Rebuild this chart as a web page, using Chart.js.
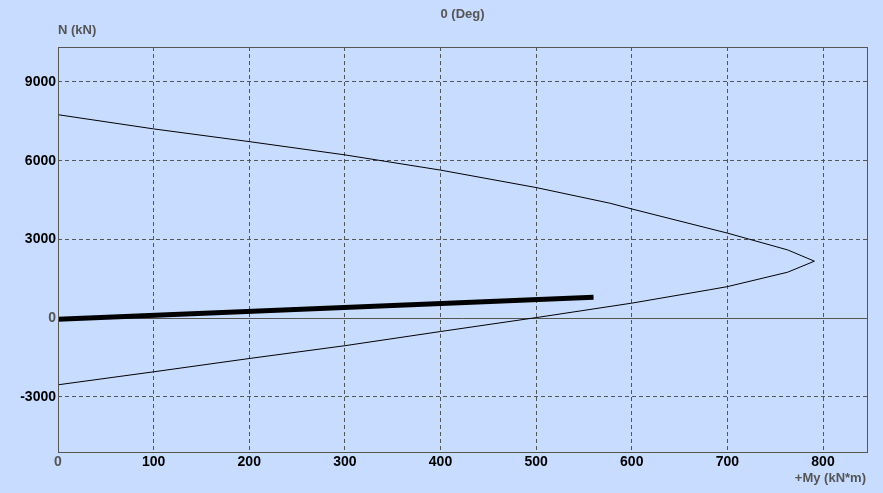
<!DOCTYPE html>
<html>
<head>
<meta charset="utf-8">
<script src="https://cdn.jsdelivr.net/npm/chart.js@4/dist/chart.umd.min.js"></script>
<style>
  html,body{margin:0;padding:0;background:#C8DCFF;}
  #wrap{width:883px;height:493px;position:relative;}
</style>
</head>
<body>
<div id="wrap"><canvas id="c" width="883" height="493"></canvas></div>
<script>
// ---- data ----
const chartTitle = "0 (Deg)";
const yTitle = "N (kN)";
const xTitle = "+My (kN*m)";
const myUpper = [0, 100, 200, 300, 400, 500, 577, 600, 700, 763, 791];
const nUpper  = [7750, 7210, 6725, 6220, 5640, 4975, 4380, 4160, 3240, 2600, 2170];
const myLower = [791, 763, 700, 681, 600, 500, 400, 300, 200, 100, 0];
const nLower  = [2170, 1750, 1200, 1078, 571, 20, -510, -1050, -1538, -2045, -2540];
const myLoad = [0, 560];
const nLoad  = [-40, 800];
const xTicks = [0, 100, 200, 300, 400, 500, 600, 700, 800];
const yTicks = [-3000, 0, 3000, 6000, 9000];

const curve = myUpper.map((x, i) => ({x, y: nUpper[i]}))
  .concat(myLower.map((x, i) => ({x, y: nLower[i]})));
const load = myLoad.map((x, i) => ({x, y: nLoad[i]}));

const FONT = "'Liberation Sans', Arial, sans-serif";
const GRAY = '#555555';

const decor = {
  id: 'decor',
  beforeDatasetsDraw(chart) {
    const {ctx, chartArea: a, scales: {y}} = chart;
    const y0 = Math.round(y.getPixelForValue(0)) + 0.5;
    ctx.save();
    ctx.strokeStyle = GRAY; ctx.lineWidth = 1; ctx.setLineDash([]);
    ctx.beginPath(); ctx.moveTo(a.left, y0); ctx.lineTo(a.right, y0); ctx.stroke();
    ctx.restore();
  },
  afterDraw(chart) {
    const {ctx, chartArea: a} = chart;
    ctx.save();
    ctx.strokeStyle = GRAY; ctx.lineWidth = 1; ctx.setLineDash([]);
    ctx.strokeRect(Math.round(a.left) + 0.5, Math.round(a.top) + 0.5,
                   Math.round(a.right - a.left), Math.round(a.bottom - a.top));
    ctx.fillStyle = GRAY;
    ctx.font = "bold 13px " + FONT;
    ctx.textBaseline = 'middle';
    ctx.textAlign = 'center';
    ctx.fillText(chartTitle, (a.left + a.right) / 2, 14);
    ctx.textAlign = 'left';
    ctx.fillText(yTitle, a.left, 30);
    ctx.textAlign = 'right';
    ctx.fillText(xTitle, a.right - 1, 478);
    ctx.restore();
  }
};

new Chart(document.getElementById('c'), {
  type: 'scatter',
  data: {
    datasets: [
      { data: load, showLine: true, borderColor: '#000', borderWidth: 5,
        pointRadius: 0, borderCapStyle: 'butt', order: 0 },
      { data: curve, showLine: true, borderColor: '#000', borderWidth: 1,
        pointRadius: 0, order: 1 }
    ]
  },
  plugins: [decor],
  options: {
    responsive: false,
    animation: false,
    events: [],
    layout: { padding: { top: 47, right: 16, left: 0, bottom: 0 } },
    plugins: { legend: { display: false }, tooltip: { enabled: false }, title: { display: false } },
    scales: {
      x: {
        type: 'linear', min: 0, max: 846,
        afterBuildTicks: s => { s.ticks = xTicks.map(v => ({value: v})); },
        afterFit: s => { s.height = 41; },
        grid: { color: GRAY, lineWidth: 1, drawTicks: false, tickLength: 0 },
        border: { display: false, dash: [4, 3] },
        ticks: { padding: 2, maxRotation: 0, autoSkip: false,
          callback: v => String(v),
          font: { family: FONT, size: 14, weight: 'bold' },
          color: c => c.tick && c.tick.value === 0 ? GRAY : '#000' }
      },
      y: {
        type: 'linear', min: -5100, max: 10330,
        afterBuildTicks: s => { s.ticks = yTicks.map(v => ({value: v})); },
        afterFit: s => { s.width = 58; },
        grid: { color: GRAY, lineWidth: 1, drawTicks: false, tickLength: 0 },
        border: { display: false, dash: [4, 3] },
        ticks: { padding: 2, autoSkip: false,
          callback: v => String(v),
          font: { family: FONT, size: 14, weight: 'bold' },
          color: c => c.tick && c.tick.value === 0 ? GRAY : '#000' }
      }
    }
  }
});
</script>
</body>
</html>
